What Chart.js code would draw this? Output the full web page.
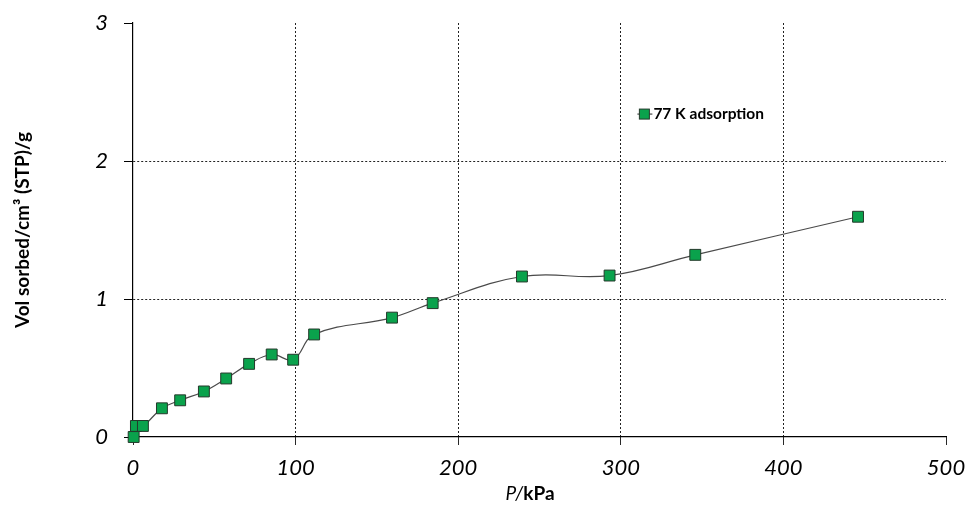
<!DOCTYPE html>
<html>
<head>
<meta charset="utf-8">
<script src="https://cdn.jsdelivr.net/npm/chart.js@4.4.1/dist/chart.umd.min.js"></script>
<style>
  html, body { margin: 0; padding: 0; background: #fff; }
  #wrap { width: 971px; height: 506px; }
</style>
</head>
<body>
<div id="wrap"><canvas id="isotherm"></canvas></div>
<script>
// Pressure (kPa) and volume sorbed (cm3 STP / g)
var pressure = [0.4, 1.8, 6.1, 17.8, 29, 43.6, 57.3, 71.4, 85.3, 98.5, 111.4, 159.3, 184.3, 239.2, 293.1, 345.8, 445.9];
var volume = [0, 0.08, 0.08, 0.208, 0.266, 0.33, 0.424, 0.53, 0.598, 0.56, 0.743, 0.865, 0.97, 1.163, 1.17, 1.32, 1.596];
var seriesLabel = '77 K adsorption';
var xTicks = [0, 100, 200, 300, 400, 500];
var yTicks = [0, 1, 2, 3];

var FONT = 'Lato, "Open Sans", sans-serif';
var markerFill = '#0aa24c';
var markerBorder = '#24392b';
var lineColor = '#4a4a4a';

document.addEventListener('DOMContentLoaded', function() {
    var points = pressure.map(function(p, i) { return { x: p, y: volume[i] }; });

    // draws the in-plot legend and the mixed-style x axis title
    var extras = {
        id: 'extras',
        afterDraw: function(chart) {
            var ctx = chart.ctx;
            var xs = chart.scales.x, ys = chart.scales.y;
            ctx.save();

            // legend
            var lx = xs.getPixelForValue(314.5);
            var ly = ys.getPixelForValue(2.34);
            ctx.strokeStyle = lineColor;
            ctx.lineWidth = 1.2;
            ctx.beginPath();
            ctx.moveTo(lx - 7, ly);
            ctx.lineTo(lx + 8, ly);
            ctx.stroke();
            ctx.fillStyle = markerFill;
            ctx.strokeStyle = markerBorder;
            ctx.lineWidth = 1;
            ctx.fillRect(lx - 5, ly - 5, 10, 10);
            ctx.strokeRect(lx - 5, ly - 5, 10, 10);
            ctx.fillStyle = '#000';
            ctx.font = 'bold 15.5px ' + FONT;
            ctx.textBaseline = 'middle';
            ctx.textAlign = 'left';
            ctx.fillText(seriesLabel, lx + 9, ly);

            // x axis title: italic P, bold kPa
            var cx = 530;
            var ty = 494;
            ctx.font = 'italic 19px ' + FONT;
            var p1 = 'P/';
            var w1 = ctx.measureText(p1).width;
            ctx.font = 'bold 19px ' + FONT;
            var p2 = 'kPa';
            var w2 = ctx.measureText(p2).width;
            var sx = cx - (w1 + w2) / 2;
            ctx.font = 'italic 19px ' + FONT;
            ctx.fillText(p1, sx, ty);
            ctx.font = 'bold 19px ' + FONT;
            ctx.fillText(p2, sx + w1, ty);
            ctx.restore();
        }
    };

    new Chart(document.getElementById('isotherm'), {
        type: 'line',
        data: {
            datasets: [{
                label: seriesLabel,
                data: points,
                borderColor: lineColor,
                borderWidth: 1.2,
                tension: 0.4,
                pointStyle: 'rect',
                pointRadius: 7.7,
                pointHoverRadius: 7.7,
                pointBackgroundColor: markerFill,
                pointBorderColor: markerBorder,
                pointBorderWidth: 1,
                clip: false
            }]
        },
        options: {
            responsive: true,
            maintainAspectRatio: false,
            animation: false,
            layout: { padding: { top: 23, right: 25, left: 0, bottom: 0 } },
            plugins: {
                legend: { display: false },
                tooltip: { enabled: false }
            },
            scales: {
                x: {
                    type: 'linear',
                    min: 0,
                    max: 500,
                    afterBuildTicks: function(scale) {
                        scale.ticks = xTicks.map(function(v) { return { value: v }; });
                    },
                    afterFit: function(scale) {
                        scale.height = 69;
                        scale.paddingLeft = 0;
                        scale.paddingRight = 0;
                    },
                    border: { display: true, color: '#000', width: 1.2, dash: [2, 2] },
                    grid: {
                        color: function(c) {
                            var v = c.tick ? c.tick.value : null;
                            return (v === 0 || v === 500) ? 'rgba(0,0,0,0)' : '#222';
                        },
                        tickColor: '#000',
                        tickLength: 8,
                        tickBorderDash: [1, 0],
                        lineWidth: 1
                    },
                    ticks: {
                        color: '#000',
                        padding: 10,
                        maxRotation: 0,
                        font: { family: FONT, size: 22, style: 'italic' }
                    }
                },
                y: {
                    type: 'linear',
                    min: 0,
                    max: 3,
                    afterBuildTicks: function(scale) {
                        scale.ticks = yTicks.map(function(v) { return { value: v }; });
                    },
                    afterFit: function(scale) {
                        scale.width = 133;
                        scale.paddingTop = 0;
                        scale.paddingBottom = 0;
                    },
                    border: { display: true, color: '#000', width: 1.2, dash: [2, 2] },
                    grid: {
                        color: function(c) {
                            var v = c.tick ? c.tick.value : null;
                            return (v === 0 || v === 3) ? 'rgba(0,0,0,0)' : '#222';
                        },
                        tickColor: '#000',
                        tickLength: 9,
                        tickBorderDash: [1, 0],
                        lineWidth: 1
                    },
                    ticks: {
                        color: '#000',
                        padding: 16,
                        font: { family: FONT, size: 22, style: 'italic' }
                    },
                    title: {
                        display: true,
                        text: 'Vol sorbed/cm\u00b3 (STP)/g',
                        color: '#000',
                        padding: { top: 11, bottom: 0 },
                        font: { family: FONT, size: 19, weight: 'bold' }
                    }
                }
            }
        },
        plugins: [extras]
    });
});
</script>
</body>
</html>
